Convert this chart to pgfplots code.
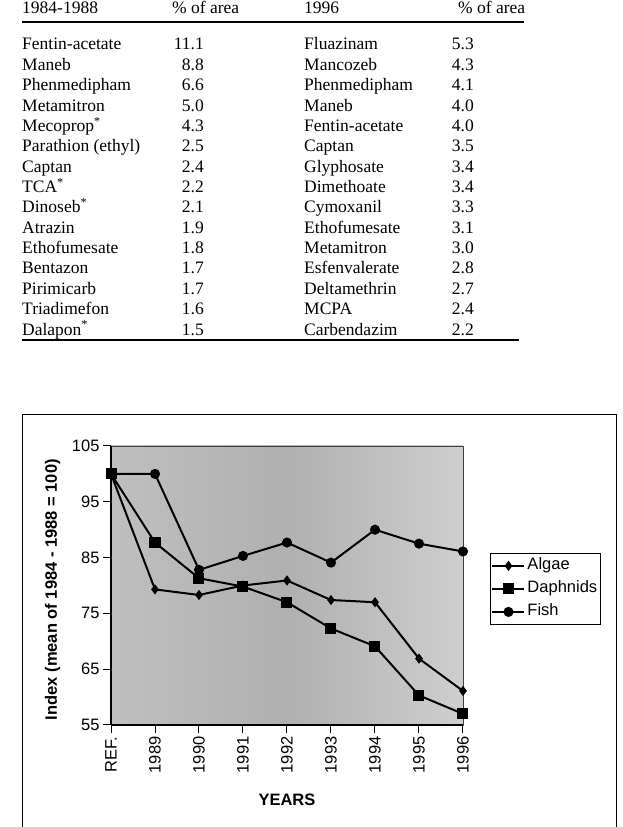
\documentclass[border=0pt]{standalone}
\usepackage{fontspec}
\setmainfont{Liberation Serif}
\newfontfamily\arial{Liberation Sans}
\usepackage{pgfplots}
\pgfplotsset{compat=1.18}
\begin{document}
\begin{tikzpicture}
\useasboundingbox (0pt,0pt) rectangle (623pt,827pt);
% ---- table ----
\begin{scope}[every node/.style={inner sep=0pt, font=\fontsize{17.5}{20}\selectfont}]
\node[anchor=base west] at (22pt,813pt) {1984-1988};
\node[anchor=base west] at (172pt,813pt) {\% of area};
\node[anchor=base west] at (304pt,813pt) {1996};
\node[anchor=base west] at (458pt,813pt) {\% of area};
\foreach \i/\a/\b/\c/\d in {
 0/{Fentin-acetate}/11.1/{Fluazinam}/5.3,
 1/{Maneb}/8.8/{Mancozeb}/4.3,
 2/{Phenmedipham}/6.6/{Phenmedipham}/4.1,
 3/{Metamitron}/5.0/{Maneb}/4.0,
 4/{Mecoprop\textsuperscript{*}}/4.3/{Fentin-acetate}/4.0,
 5/{Parathion (ethyl)}/2.5/{Captan}/3.5,
 6/{Captan}/2.4/{Glyphosate}/3.4,
 7/{TCA\textsuperscript{*}}/2.2/{Dimethoate}/3.4,
 8/{Dinoseb\textsuperscript{*}}/2.1/{Cymoxanil}/3.3,
 9/{Atrazin}/1.9/{Ethofumesate}/3.1,
 10/{Ethofumesate}/1.8/{Metamitron}/3.0,
 11/{Bentazon}/1.7/{Esfenvalerate}/2.8,
 12/{Pirimicarb}/1.7/{Deltamethrin}/2.7,
 13/{Triadimefon}/1.6/{MCPA}/2.4,
 14/{Dalapon\textsuperscript{*}}/1.5/{Carbendazim}/2.2}{
  \pgfmathsetmacro\yy{777-20.36*\i}
  \node[anchor=base west] at (22pt,\yy pt) {\a};
  \node[anchor=base east] at (204pt,\yy pt) {\b};
  \node[anchor=base west] at (304pt,\yy pt) {\c};
  \node[anchor=base east] at (474pt,\yy pt) {\d};
}
\end{scope}
\draw[line width=1.6pt] (22pt,805pt) -- (524pt,805pt);
\draw[line width=1.3pt] (22pt,487pt) -- (519pt,487pt);
% ---- chart frame ----
\draw[line width=0.9pt] (22pt,-5pt) -- (22pt,413pt) -- (616pt,413pt) -- (616pt,-5pt);
% ---- chart ----
\begin{axis}[
  at={(111pt,102pt)}, anchor=south west,
  scale only axis, width=352pt, height=279pt,
  xmin=0, xmax=8, ymin=55, ymax=105,
  xtick={0,...,8},
  xticklabels={REF.,1989,1990,1991,1992,1993,1994,1995,1996},
  ytick={55,65,...,105},
  axis x line*=bottom, axis y line*=left,
  axis line style={line width=1.2pt, black},
  tick align=outside, major tick length=8pt,
  tick style={line width=1pt, black},
  /pgf/number format/assume math mode=true,
  ticklabel style={font=\arial\fontsize{16.5}{18}\selectfont},
  x tick label style={rotate=90, anchor=east},
  xlabel={YEARS},
  ylabel={Index (mean of 1984 - 1988 = 100)},
  label style={font=\arial\bfseries\fontsize{16.5}{18}\selectfont},
  xlabel style={at={(axis description cs:0.5,-0.269)}, anchor=center},
  ylabel style={at={(axis description cs:-0.166,0.485)}, anchor=center},
  axis background/.style={shade, left color=gray!50, right color=gray!38, middle color=gray!62, draw=gray!50!black, line width=0.8pt},
  clip=false,
  legend image code/.code={\draw[mark repeat=2,mark phase=2,#1] plot coordinates {(0pt,0pt) (16pt,0pt) (32pt,0pt)};},
  legend cell align=left,
  legend style={at={(1.077,0.6165)}, anchor=north west, draw=black, line width=0.8pt, fill=white,
    font=\arial\fontsize{16.5}{18}\selectfont, inner sep=1pt, row sep=0pt,
    nodes={inner ysep=3.5pt, inner xsep=2pt, text height=12pt, text depth=4pt}},
  every axis plot/.append style={black, line width=2pt},
]
\addplot[mark=diamond*, mark size=3.5pt] coordinates {(0,100) (1,79.3) (2,78.3) (3,80.0) (4,80.9) (5,77.4) (6,77.0) (7,66.9) (8,61.1)};
\addlegendentry{Algae}
\addplot[mark=square*, mark size=4.5pt] coordinates {(0,100) (1,87.7) (2,81.3) (3,79.8) (4,77.0) (5,72.3) (6,69.1) (7,60.3) (8,57.0)};
\addlegendentry{Daphnids}
\addplot[mark=*, mark size=4pt] coordinates {(0,100) (1,100) (2,82.8) (3,85.3) (4,87.7) (5,84.1) (6,90.0) (7,87.5) (8,86.1)};
\addlegendentry{Fish}
\end{axis}
\end{tikzpicture}
\end{document}
